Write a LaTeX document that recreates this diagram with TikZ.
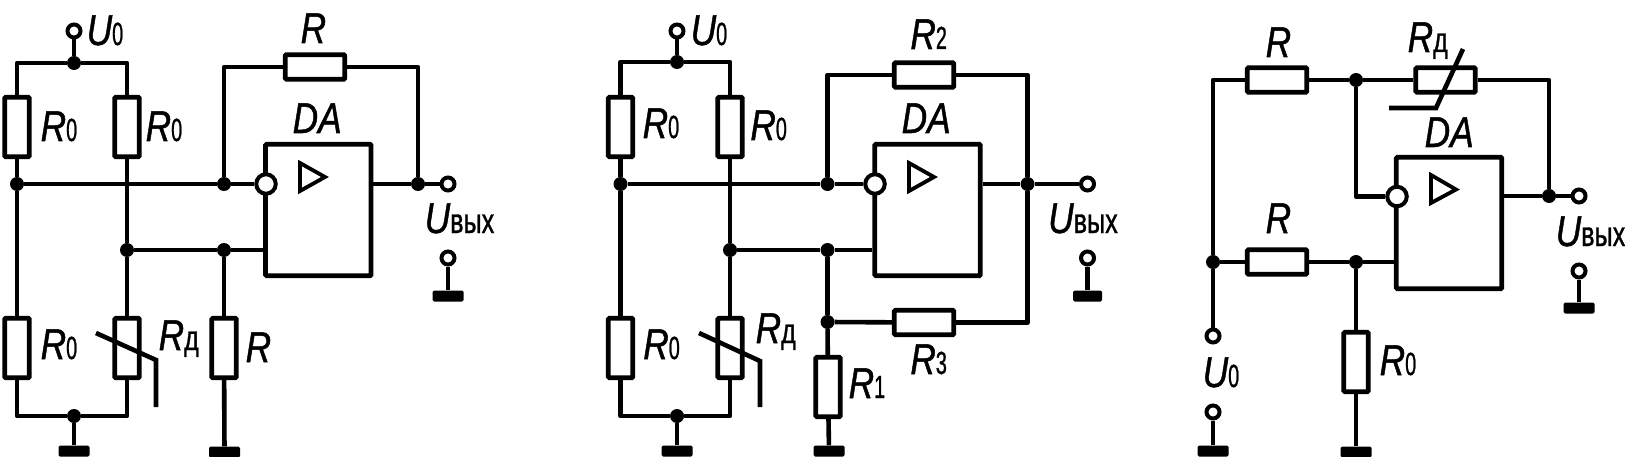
\documentclass[tikz,border=0pt]{standalone}
\usepackage{fontspec}
\setmainfont{Liberation Sans}[FakeBold=1.2]
\newcommand\lbm[1]{\scalebox{.82}[1]{\fontsize{43}{43}\selectfont\itshape #1}}
\newcommand\lbs[1]{\scalebox{.62}[1]{\fontsize{32}{32}\selectfont #1}}
\newcommand\lbv[1]{\scalebox{.72}[1]{\fontsize{35}{35}\selectfont #1}}
\tikzset{
  wire/.style={line width=4.6pt,line join=round,line cap=butt},
  part/.style={draw,line width=4.6pt,inner sep=0pt,rounded corners=1pt},
  vres/.style={part,rectangle,minimum width=24.5pt,minimum height=59.5pt},
  hres/.style={part,rectangle,minimum width=59.5pt,minimum height=24.5pt},
  chip/.style={part,rectangle,fill=white,minimum width=105.5pt,minimum height=131.5pt},
  jun/.style={circle,fill=black,inner sep=0pt,minimum size=14pt},
  term/.style={circle,draw,fill=white,line width=4pt,inner sep=0pt,minimum size=13pt},
  inv/.style={circle,draw,fill=white,line width=4pt,inner sep=0pt,minimum size=19.5pt},
  gnd/.style={rectangle,fill=black,rounded corners=1.5pt,inner sep=0pt,minimum width=31pt,minimum height=11pt},
  txt/.style={anchor=base west,inner sep=0pt,xshift=-2.5pt},
  tri/.style={line width=3.8pt,line join=miter},
}
\begin{document}
\begin{tikzpicture}[x=1pt,y=-1pt]
\useasboundingbox (0,0) rectangle (1629,457);
% ---------- panel 1
\node[term] (aT1) at (74,31) {};
\node[jun] (aJ1) at (74,63) {};
\node[vres] (aR1) at (17,127) {};
\node[vres] (aR2) at (127,127) {};
\node[vres] (aR3) at (17,348) {};
\node[vres] (aR4) at (127,348) {};
\node[vres] (aR5) at (224,348) {};
\node[hres] (aR6) at (315,67) {};
\node[jun] (aJ2) at (17,184) {};
\node[jun] (aJ3) at (224,184) {};
\node[jun] (aJ4) at (127,250) {};
\node[jun] (aJ5) at (224,250) {};
\node[jun] (aJ6) at (74,416) {};
\node[jun] (aJ7) at (418,184) {};
\node[chip] (aDA) at (318.25,210) {};
\node[term] (aT2) at (448,184) {};
\node[term] (aT3) at (448,258) {};
\node[gnd] (aG1) at (74,451) {};
\node[gnd] (aG2) at (224.5,452) {};
\node[gnd] (aG3) at (448,296) {};
\draw[wire] (aT1) -- (aJ1);
\draw[wire] (aR1) |- (aJ1);
\draw[wire] (aR2) |- (aJ1);
\draw[wire] (aR1) -- (aJ2);
\draw[wire] (aJ2) -- (aR3);
\draw[wire] (aJ2) -- (aJ3);
\draw[wire] (aR2) -- (aJ4);
\draw[wire] (aJ4) -- (aR4);
\draw[wire] (aJ4) -- (aJ5);
\draw[wire] (aJ5) -- (aJ5 -| aDA.west);
\draw[wire] (aJ5) -- (aR5);
\draw[wire] (aR5) -- (aG2);
\draw[wire] (aR3) |- (aJ6);
\draw[wire] (aR4) |- (aJ6);
\draw[wire] (aJ6) -- (aG1);
\draw[wire] (aJ3) |- (aR6);
\draw[wire] (aR6) -| (aJ7);
\draw[wire] (aJ7 -| aDA.east) -- (aJ7);
\draw[wire] (aJ7) -- (aT2);
\draw[wire] (aT3) -- (aG3);
\node[inv] (aC) at (266,184) {};
\draw[wire] (aJ3) -- (aC);
\draw[tri] (300,163) -- (300,191) -- (325,177) -- cycle;
\draw[wire,line join=miter] (96,333) -- (156,360) -- (156,407);
\node[txt] (aL1) at (89,45) {\lbm{U}\lbs{0}};
\node[txt] (aL2) at (303,43) {\lbm{R}};
\node[txt] (aL3) at (295,133) {\lbm{DA}};
\node[txt] (aL4) at (43,141) {\lbm{R}\lbs{0}};
\node[txt] (aL5) at (148,141) {\lbm{R}\lbs{0}};
\node[txt] (aL6) at (43,359) {\lbm{R}\lbs{0}};
\node[txt] (aL7) at (161,350) {\lbm{R}\lbv{д}};
\node[txt] (aL8) at (248,362) {\lbm{R}};
\node[txt] (aL9) at (427,233) {\lbm{U}\lbv{вых}};
% ---------- panel 2
\node[term] (bT1) at (677,31) {};
\node[jun] (bJ1) at (677,62) {};
\node[vres] (bR1) at (620.5,127) {};
\node[vres] (bR2) at (730,127) {};
\node[vres] (bR3) at (620.5,348) {};
\node[vres] (bR4) at (730,348) {};
\node[vres] (bR5) at (828,387) {};
\node[hres] (bR6) at (924,75) {};
\node[hres] (bR7) at (924,322.5) {};
\node[jun] (bJ2) at (620.5,184) {};
\node[jun] (bJ3) at (827.5,184) {};
\node[jun] (bJ4) at (730,250) {};
\node[jun] (bJ5) at (827.5,250) {};
\node[jun] (bJ6) at (677,416) {};
\node[jun] (bJ7) at (1027.5,184) {};
\node[jun] (bJ8) at (827.5,322) {};
\node[chip] (bDA) at (927.5,210) {};
\node[term] (bT2) at (1087.5,184) {};
\node[term] (bT3) at (1087.5,258) {};
\node[gnd] (bG1) at (677,451) {};
\node[gnd] (bG2) at (829,451) {};
\node[gnd,minimum width=29pt] (bG3) at (1087.5,296) {};
\draw[wire] (bT1) -- (bJ1);
\draw[wire] (bR1) |- (bJ1);
\draw[wire] (bR2) |- (bJ1);
\draw[wire] (bR1) -- (bJ2);
\draw[wire] (bJ2) -- (bR3);
\draw[wire] (bJ2) -- (bJ3);
\draw[wire] (bR2) -- (bJ4);
\draw[wire] (bJ4) -- (bR4);
\draw[wire] (bJ4) -- (bJ5);
\draw[wire] (bJ5) -- (bJ5 -| bDA.west);
\draw[wire] (bJ5) -- (bJ8);
\draw[wire] (bJ8) -- (bR5);
\draw[wire] (bJ8) -- (bR7);
\draw[wire] (bR5) -- (bG2);
\draw[wire] (bR3) |- (bJ6);
\draw[wire] (bR4) |- (bJ6);
\draw[wire] (bJ6) -- (bG1);
\draw[wire] (bJ3) |- (bR6);
\draw[wire] (bR6) -| (bJ7);
\draw[wire] (bR7) -| (bJ7);
\draw[wire] (bJ7 -| bDA.east) -- (bJ7);
\draw[wire] (bJ7) -- (bT2);
\draw[wire] (bT3) -- (bG3);
\node[inv] (bC) at (875,184) {};
\draw[wire] (bJ3) -- (bC);
\draw[tri] (909,163) -- (909,191) -- (934,177) -- cycle;
\draw[wire,line join=miter] (699,333) -- (760,361) -- (760,407);
\node[txt] (bL1) at (693,45) {\lbm{U}\lbs{0}};
\node[txt] (bL2) at (912.7,49) {\lbm{R}\lbs{2}};
\node[txt] (bL3) at (904,133) {\lbm{DA}};
\node[txt] (bL4) at (645,138) {\lbm{R}\lbs{0}};
\node[txt] (bL5) at (752.7,140) {\lbm{R}\lbs{0}};
\node[txt] (bL6) at (645.6,359) {\lbm{R}\lbs{0}};
\node[txt] (bL7) at (758,343) {\lbm{R}\lbv{д}};
\node[txt] (bL8) at (912.7,374) {\lbm{R}\lbs{3}};
\node[txt] (bL9) at (851,398) {\lbm{R}\lbs{1}};
\node[txt] (bL10) at (1050.5,233) {\lbm{U}\lbv{вых}};
% ---------- panel 3
\node[hres] (cR1) at (1277,80) {};
\node[hres] (cR2) at (1445.5,80) {};
\node[hres] (cR3) at (1277,262) {};
\node[vres] (cR4) at (1356,362) {};
\node[jun] (cJ1) at (1356,80) {};
\node[jun] (cJ2) at (1549,196) {};
\node[jun] (cJ3) at (1213,262) {};
\node[jun] (cJ4) at (1356,262) {};
\node[chip] (cDA) at (1449,223) {};
\node[term] (cT1) at (1579,196) {};
\node[term] (cT2) at (1579,271) {};
\node[term] (cT3) at (1213,336) {};
\node[term] (cT4) at (1213,412) {};
\node[gnd] (cG1) at (1213,451) {};
\node[gnd] (cG2) at (1356,452) {};
\node[gnd] (cG3) at (1579,308) {};
\draw[wire] (cR1) -| (cJ3);
\draw[wire] (cR1) -- (cJ1);
\draw[wire] (cJ1) -- (cR2);
\draw[wire] (cR2) -| (cJ2);
\draw[wire] (cJ2 -| cDA.east) -- (cJ2);
\draw[wire] (cJ2) -- (cT1);
\draw[wire] (cT2) -- (cG3);
\draw[wire] (cJ3) -- (cR3);
\draw[wire] (cR3) -- (cJ4);
\draw[wire] (cJ4) -- (cJ4 -| cDA.west);
\draw[wire] (cJ4) -- (cR4);
\draw[wire] (cR4) -- (cG2);
\draw[wire] (cJ3) -- (cT3);
\draw[wire] (cT4) -- (cG1);
\node[inv] (cC) at (1397,196.5) {};
\draw[wire] (cJ1) |- (cC);
\draw[tri] (1431,175) -- (1431,203) -- (1456,189.5) -- cycle;
\draw[wire,line join=miter] (1463,49) -- (1436,108) -- (1389,108);
\node[txt] (cL1) at (1268,57) {\lbm{R}};
\node[txt] (cL2) at (1410,52) {\lbm{R}\lbv{д}};
\node[txt] (cL3) at (1427,147) {\lbm{DA}};
\node[txt] (cL4) at (1268,233) {\lbm{R}};
\node[txt] (cL5) at (1558,246) {\lbm{U}\lbv{вых}};
\node[txt] (cL6) at (1205,387) {\lbm{U}\lbs{0}};
\node[txt] (cL7) at (1382,375) {\lbm{R}\lbs{0}};
\end{tikzpicture}
\end{document}
